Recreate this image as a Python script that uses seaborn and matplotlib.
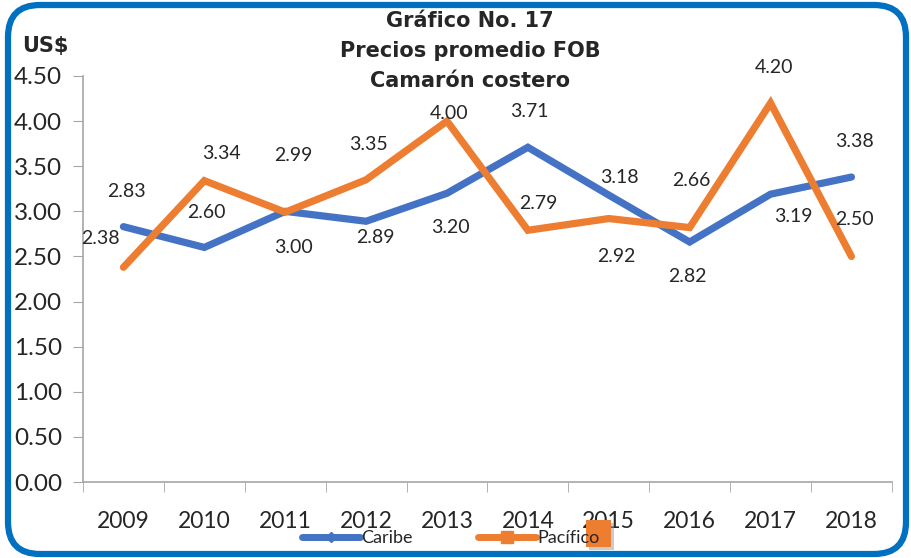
import numpy as np
import pandas as pd
import matplotlib
matplotlib.use("Agg")
import matplotlib.pyplot as plt
import seaborn as sns
from matplotlib.patches import FancyBboxPatch, Rectangle
from matplotlib.transforms import IdentityTransform
from matplotlib.lines import Line2D

# Datos
anios = ["2009", "2010", "2011", "2012", "2013", "2014", "2015", "2016", "2017", "2018"]
caribe = [2.83, 2.60, 3.00, 2.89, 3.20, 3.71, 3.18, 2.66, 3.19, 3.38]
pacifico = [2.38, 3.34, 2.99, 3.35, 4.00, 2.79, 2.92, 2.82, 4.20, 2.50]
yticks = [0.0, 0.5, 1.0, 1.5, 2.0, 2.5, 3.0, 3.5, 4.0, 4.5]

# desplazamiento de las etiquetas (pixeles)
off_caribe = [(3, 35), (2, 35), (8, -36), (9, -16), (3, -34), (2, 36), (11, 18), (2, 62), (23, -22), (3, 36)]
off_pacifico = [(-23, 29), (17, 27), (8, 57), (2, 35), (2, 8), (10, 27), (8, -38), (-2, -49), (3, 36), (3, 37)]

azul = "#4472C4"
naranja = "#ED7D31"

df = pd.DataFrame({"x": list(range(len(anios))) * 2,
                   "valor": caribe + pacifico,
                   "serie": ["Caribe"] * len(anios) + ["Pacífico"] * len(anios)})

sns.set_style("white")
plt.rcParams["font.family"] = ["Lato", "DejaVu Sans"]

fig = plt.figure(figsize=(9.11, 5.58), dpi=100)
ax = fig.add_axes([0.0911, 0.1362, 0.8879, 0.7276])

sns.lineplot(data=df, x="x", y="valor", hue="serie", palette=[azul, naranja],
             linewidth=5.2, legend=False, ax=ax, solid_capstyle="round",
             solid_joinstyle="miter")

for i in range(len(anios)):
    ax.annotate(f"{caribe[i]:.2f}", (i, caribe[i]), xytext=off_caribe[i],
                textcoords="offset pixels", ha="center", va="center", fontsize=14)
    ax.annotate(f"{pacifico[i]:.2f}", (i, pacifico[i]), xytext=off_pacifico[i],
                textcoords="offset pixels", ha="center", va="center", fontsize=14)

ax.set_xlim(-0.5, len(anios) - 0.5)
ax.set_ylim(0, 4.5)
ax.set_yticks(yticks)
ax.set_yticklabels([f"{v:.2f}" for v in yticks], fontsize=17.5)
ax.set_xticks(range(len(anios)))
ax.set_xticklabels(anios, fontsize=16.5)
ax.set_xticks(np.arange(-0.5, len(anios)), minor=True)
ax.tick_params(axis="x", which="major", length=0, pad=21)
ax.tick_params(axis="x", which="minor", length=7, color="#A6A6A6", direction="out", bottom=True)
ax.tick_params(axis="y", length=7, color="#A6A6A6", direction="out", left=True, pad=8)
ax.set_xlabel("")
ax.set_ylabel("")
for s in ["top", "right"]:
    ax.spines[s].set_visible(False)
for s in ["left", "bottom"]:
    ax.spines[s].set_color("#A6A6A6")
    ax.spines[s].set_linewidth(1.2)

# titulo
fig.text(0.516, 0.962, "Gráfico No. 17", ha="center", va="center", fontsize=15,
         fontweight="bold", family="DejaVu Sans")
fig.text(0.516, 0.909, "Precios promedio FOB", ha="center", va="center", fontsize=15,
         fontweight="bold", family="DejaVu Sans")
fig.text(0.516, 0.855, "Camarón costero", ha="center", va="center", fontsize=15,
         fontweight="bold", family="DejaVu Sans")
fig.text(0.050, 0.918, "US$", ha="center", va="center", fontsize=15,
         fontweight="bold", family="DejaVu Sans")

# leyenda
handles = [Line2D([], [], color=azul, lw=5, marker="D", markersize=5, solid_capstyle="round"),
           Line2D([], [], color=naranja, lw=5, marker="s", markersize=8, solid_capstyle="round")]
fig.legend(handles, ["Caribe", "Pacífico"], loc="center", bbox_to_anchor=(0.495, 0.036),
           ncol=2, frameon=False, fontsize=13, handlelength=3.2, handletextpad=0.1,
           columnspacing=3.6)

# cuadro naranja suelto
fig.patches.append(Rectangle((589, 8), 25, 27, transform=IdentityTransform(),
                             facecolor="#9a9a9a", edgecolor="none", alpha=0.5))
fig.patches.append(Rectangle((586, 11), 25, 27, transform=IdentityTransform(),
                             facecolor=naranja, edgecolor="none"))

# marco azul redondeado
fig.patches.append(FancyBboxPatch((8, 4), 898, 549, boxstyle="round,pad=0,rounding_size=32",
                                  transform=IdentityTransform(), facecolor="none",
                                  edgecolor="#0070C0", linewidth=4.5))

fig.savefig("out.png", dpi=100)
